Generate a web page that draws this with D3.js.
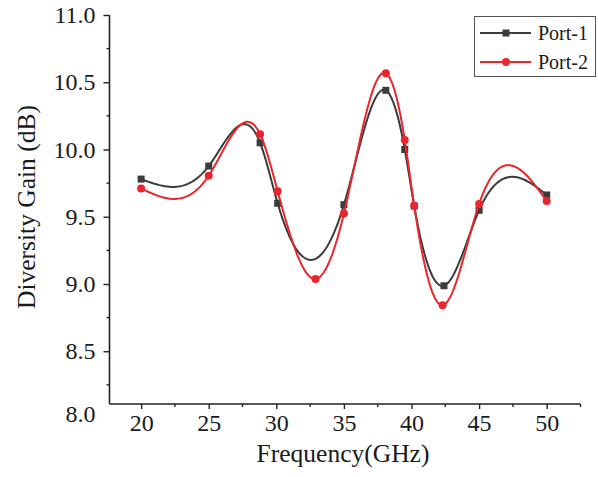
<!DOCTYPE html>
<html>
<head>
<meta charset="utf-8">
<script src="https://cdn.jsdelivr.net/npm/d3@7"></script>
<style>
  html, body { margin: 0; padding: 0; background: #fff; }
  svg { display: block; }
  text { font-family: "Liberation Serif", "Times New Roman", serif; fill: #1a1a1a; }
</style>
</head>
<body>
<svg id="chart" width="598" height="477"></svg>
<script>
// ---- Data ----
const port1Freq = [20, 25, 28.8, 30.1, 35, 38.1, 39.5, 40.2, 42.4, 45, 50];
const port1Gain = [9.78, 9.877, 10.05, 9.60, 9.59, 10.44, 10.00, 9.58, 8.987, 9.548, 9.662];
const port2Freq = [20, 25, 28.8, 30.1, 32.9, 35, 38.1, 39.5, 40.2, 42.3, 45, 50];
const port2Gain = [9.71, 9.805, 10.113, 9.69, 9.037, 9.525, 10.567, 10.07, 9.582, 8.842, 9.595, 9.617];
const seriesNames = ["Port-1", "Port-2"];
const xTickLabels = [20, 25, 30, 35, 40, 45, 50];
const yTickLabels = [8.0, 8.5, 9.0, 9.5, 10.0, 10.5, 11.0];

// ---- Layout ----
const SERIF = "Liberation Serif, Times New Roman, serif";
const svg = d3.select("#chart");
const x = d3.scaleLinear().domain([17.66, 52.5]).range([109.5, 580.5]);
const y = d3.scaleLinear().domain([8, 11]).range([418.5, 15]);
const axisY = 404;   // x-axis line position
const axisTop = 15;

const col1 = "#3b3b3b", col2 = "#e8262b";

// natural cubic spline in data space (render-only smoothing)
function naturalSpline(xs, ys) {
  const n = xs.length;
  const h = [], al = [], l = [1], mu = [0], z = [0];
  for (let i = 0; i < n - 1; i++) h.push(xs[i + 1] - xs[i]);
  for (let i = 1; i < n - 1; i++)
    al[i] = 3 / h[i] * (ys[i + 1] - ys[i]) - 3 / h[i - 1] * (ys[i] - ys[i - 1]);
  for (let i = 1; i < n - 1; i++) {
    l[i] = 2 * (xs[i + 1] - xs[i - 1]) - h[i - 1] * mu[i - 1];
    mu[i] = h[i] / l[i];
    z[i] = (al[i] - h[i - 1] * z[i - 1]) / l[i];
  }
  const c = new Array(n).fill(0), b = [], d = [];
  for (let j = n - 2; j >= 0; j--) {
    c[j] = (j === 0 ? 0 : z[j] - mu[j] * c[j + 1]);
    b[j] = (ys[j + 1] - ys[j]) / h[j] - h[j] * (c[j + 1] + 2 * c[j]) / 3;
    d[j] = (c[j + 1] - c[j]) / (3 * h[j]);
  }
  return function (t) {
    let j = 0;
    while (j < n - 2 && t > xs[j + 1]) j++;
    const dx = t - xs[j];
    return ys[j] + b[j] * dx + c[j] * dx * dx + d[j] * dx * dx * dx;
  };
}

function curvePoints(xs, ys) {
  const f = naturalSpline(xs, ys);
  const pts = [];
  const steps = 400;
  for (let k = 0; k <= steps; k++) {
    const t = xs[0] + (xs[xs.length - 1] - xs[0]) * k / steps;
    pts.push([t, f(t)]);
  }
  return pts;
}

const line = d3.line().x(d => x(d[0])).y(d => y(d[1]));

// ---- Axes ----
const minorX = d3.range(22.5, 52.51, 5);
const minorY = d3.range(8.25, 11, 0.5);

const gx = svg.append("g").attr("transform", `translate(0,${axisY})`);
gx.append("line").attr("x1", x.range()[0]).attr("x2", x.range()[1])
  .attr("stroke", "#222").attr("stroke-width", 1.6);
const gxAxis = gx.append("g")
  .call(d3.axisBottom(x).tickValues(xTickLabels).tickSize(5).tickSizeOuter(0).tickFormat(d3.format("d")))
  .attr("font-family", SERIF).attr("font-size", 24);
gxAxis.select(".domain").remove();
gxAxis.selectAll(".tick line").attr("stroke", "#222").attr("stroke-width", 1.4);
gxAxis.selectAll(".tick text").attr("y", 7).attr("dy", "0.85em").attr("fill", "#1a1a1a");
gx.selectAll(".minx").data(minorX).enter().append("line").attr("class", "minx")
  .attr("x1", d => x(d)).attr("x2", d => x(d)).attr("y1", 0).attr("y2", 3)
  .attr("stroke", "#222").attr("stroke-width", 1.4);

const gy = svg.append("g").attr("transform", `translate(${x.range()[0]},0)`);
gy.append("line").attr("y1", axisTop).attr("y2", axisY)
  .attr("stroke", "#222").attr("stroke-width", 1.6);
const gyAxis = gy.append("g")
  .call(d3.axisLeft(y).tickValues(yTickLabels).tickSize(6).tickSizeOuter(0).tickFormat(d3.format(".1f")))
  .attr("font-family", SERIF).attr("font-size", 24);
gyAxis.select(".domain").remove();
gyAxis.selectAll(".tick line").attr("stroke", "#222").attr("stroke-width", 1.4);
gyAxis.selectAll(".tick text").attr("x", -14).attr("fill", "#1a1a1a");
// the lowest label sits at the axis corner (axis stops short of 8.0)
gyAxis.selectAll(".tick").filter(d => d === 8).each(function () {
  d3.select(this).select("line").remove();
  d3.select(this).select("text").attr("y", -5);
});
gy.selectAll(".miny").data(minorY).enter().append("line").attr("class", "miny")
  .attr("y1", d => y(d)).attr("y2", d => y(d)).attr("x1", 0).attr("x2", -3)
  .attr("stroke", "#222").attr("stroke-width", 1.4);

// axis titles
svg.append("text").attr("x", 343).attr("y", 462).attr("text-anchor", "middle")
  .attr("font-size", 25.5).text("Frequency(GHz)");
svg.append("text").attr("transform", "translate(35,207) rotate(-90)").attr("text-anchor", "middle")
  .attr("font-size", 25.5).text("Diversity Gain (dB)");

// ---- Series ----
svg.append("path").datum(curvePoints(port1Freq, port1Gain)).attr("d", line)
  .attr("fill", "none").attr("stroke", col1).attr("stroke-width", 2);
svg.append("g").selectAll("rect").data(port1Freq.map((f, i) => [f, port1Gain[i]])).enter()
  .append("rect").attr("x", d => x(d[0]) - 3.5).attr("y", d => y(d[1]) - 3.5)
  .attr("width", 7).attr("height", 7).attr("fill", col1);

svg.append("path").datum(curvePoints(port2Freq, port2Gain)).attr("d", line)
  .attr("fill", "none").attr("stroke", col2).attr("stroke-width", 2);
svg.append("g").selectAll("circle").data(port2Freq.map((f, i) => [f, port2Gain[i]])).enter()
  .append("circle").attr("cx", d => x(d[0])).attr("cy", d => y(d[1])).attr("r", 4)
  .attr("fill", col2);

// ---- Legend ----
const lg = svg.append("g");
lg.append("rect").attr("x", 474.5).attr("y", 16.5).attr("width", 121).attr("height", 60)
  .attr("fill", "#fff").attr("stroke", "#555").attr("stroke-width", 1);
const legendRows = [
  { name: seriesNames[0], color: col1, shape: "square", y: 33 },
  { name: seriesNames[1], color: col2, shape: "circle", y: 62 }
];
legendRows.forEach(r => {
  lg.append("line").attr("x1", 480).attr("x2", 531).attr("y1", r.y).attr("y2", r.y)
    .attr("stroke", r.color).attr("stroke-width", 2);
  if (r.shape === "square")
    lg.append("rect").attr("x", 506 - 3.5).attr("y", r.y - 3.5).attr("width", 7).attr("height", 7).attr("fill", r.color);
  else
    lg.append("circle").attr("cx", 506).attr("cy", r.y).attr("r", 4).attr("fill", r.color);
  lg.append("text").attr("x", 538).attr("y", r.y + 7).attr("font-size", 20).text(r.name);
});
</script>
</body>
</html>
